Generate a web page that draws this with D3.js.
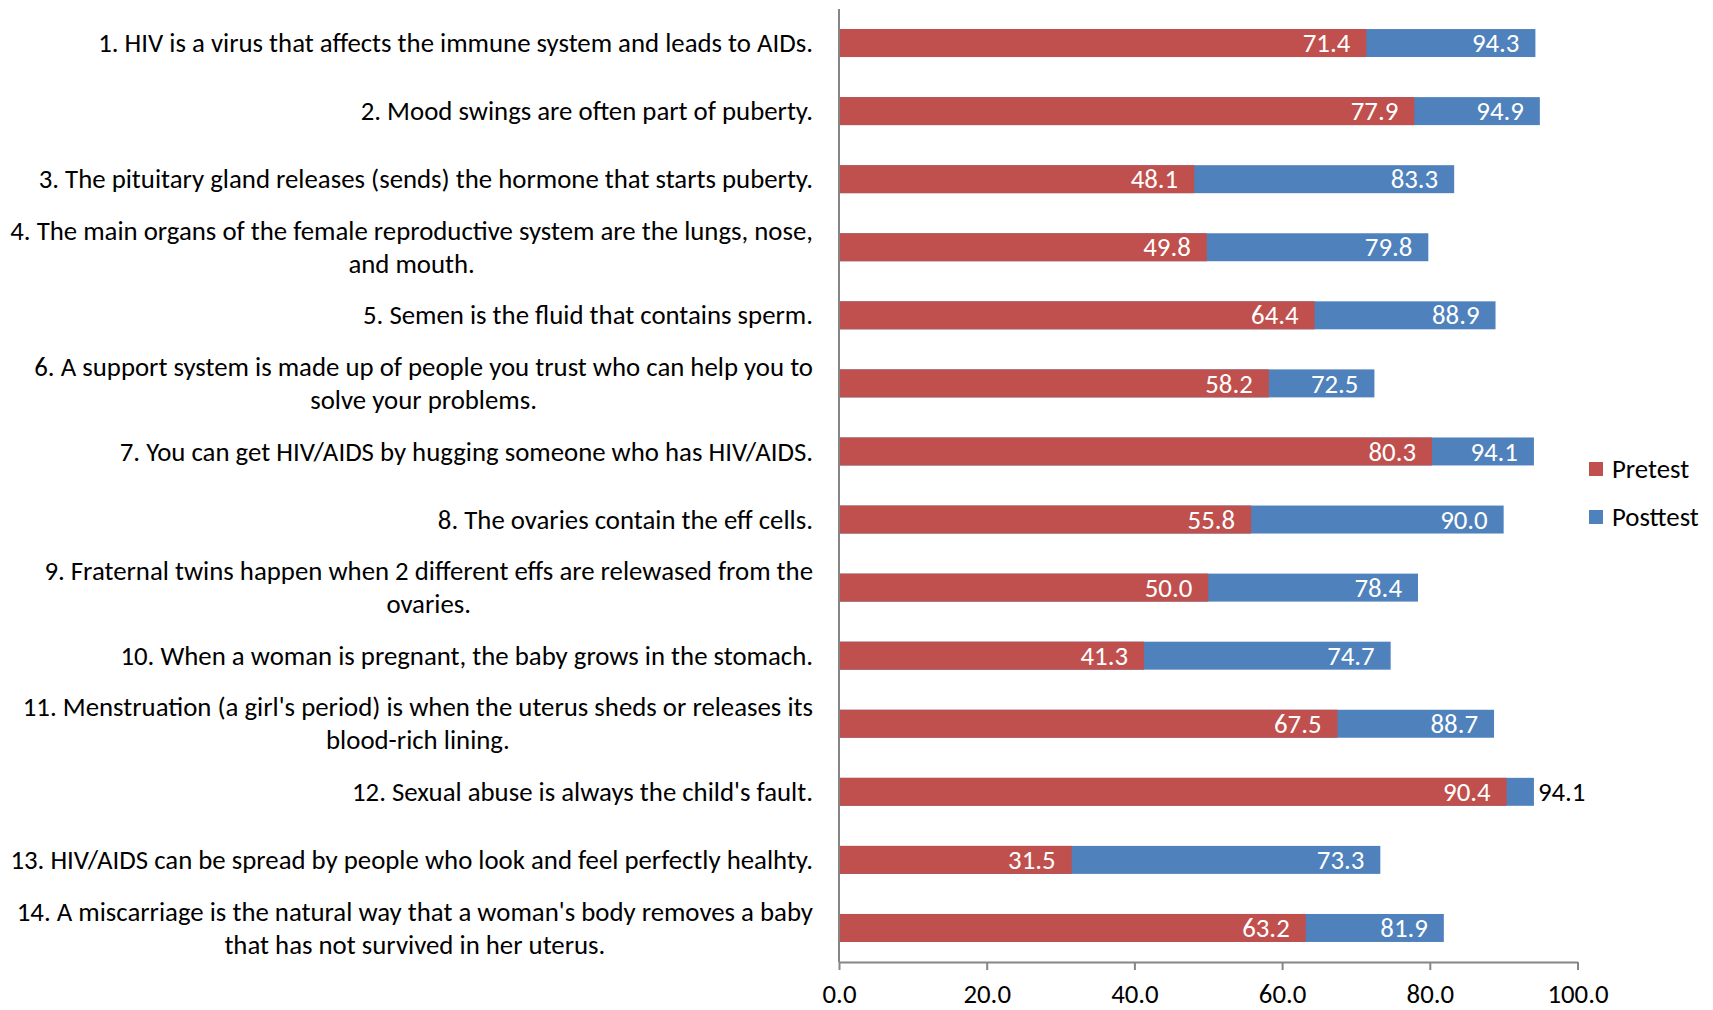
<!DOCTYPE html>
<html>
<head>
<meta charset="utf-8">
<script src="https://cdn.jsdelivr.net/npm/d3@7"></script>
<style>
  html, body { margin: 0; padding: 0; background: #fff; }
  svg { display: block; }
  text { font-family: Carlito, Calibri, Lato, sans-serif; }
</style>
</head>
<body>
<svg id="chart" width="1713" height="1010"></svg>
<script>
// Survey items (multi-line items are split where the label wraps)
const items = [
  ["1. HIV is a virus that affects the immune system and leads to AIDs."],
  ["2. Mood swings are often part of puberty."],
  ["3. The pituitary gland releases (sends) the hormone that starts puberty."],
  ["4. The main organs of the female reproductive system are the lungs, nose,", "and mouth."],
  ["5. Semen is the fluid that contains sperm."],
  ["6. A support system is made up of people you trust who can help you to", "solve your problems."],
  ["7. You can get HIV/AIDS by hugging someone who has HIV/AIDS."],
  ["8. The ovaries contain the eff cells."],
  ["9. Fraternal twins happen when 2 different effs are relewased from the", "ovaries."],
  ["10. When a woman is pregnant, the baby grows in the stomach."],
  ["11. Menstruation (a girl's period) is when the uterus sheds or releases its", "blood-rich lining."],
  ["12. Sexual abuse is always the child's fault."],
  ["13. HIV/AIDS can be spread by people who look and feel perfectly healhty."],
  ["14. A miscarriage is the natural way that a woman's body removes a baby", "that has not survived in her uterus."]
];
const pretest  = [71.4, 77.9, 48.1, 49.8, 64.4, 58.2, 80.3, 55.8, 50.0, 41.3, 67.5, 90.4, 31.5, 63.2];
const posttest = [94.3, 94.9, 83.3, 79.8, 88.9, 72.5, 94.1, 90.0, 78.4, 74.7, 88.7, 94.1, 73.3, 81.9];
const xTicks = [0, 20, 40, 60, 80, 100];
const seriesNames = ["Pretest", "Posttest"];
const seriesColors = ["#C0504D", "#4F81BD"];

const FONT = 26.8;
const svg = d3.select("#chart");

const x = d3.scaleLinear().domain([0, 100]).range([839, 1577.5]);
const y = d3.scaleBand()
  .domain(d3.range(items.length))
  .range([9, 962])
  .paddingInner(0.589)
  .paddingOuter(0.2945);

const rows = items.map((lines, i) => ({ i, lines, pre: pretest[i], post: posttest[i] }));

// Posttest bar drawn full length, pretest bar on top of it
const g = svg.append("g");
g.selectAll("rect.post").data(rows).join("rect")
  .attr("class", "post")
  .attr("x", x(0))
  .attr("y", d => y(d.i))
  .attr("width", d => x(d.post) - x(0))
  .attr("height", y.bandwidth())
  .attr("fill", seriesColors[1]);
g.selectAll("rect.pre").data(rows).join("rect")
  .attr("class", "pre")
  .attr("x", x(0))
  .attr("y", d => y(d.i))
  .attr("width", d => x(d.pre) - x(0))
  .attr("height", y.bandwidth())
  .attr("fill", seriesColors[0]);

// Value labels at the inside end of each segment
const pad = 16;
function valueLabel(cls, val, start) {
  const t = g.selectAll("text." + cls).data(rows).join("text")
    .attr("class", cls)
    .attr("y", d => y(d.i) + y.bandwidth() / 2)
    .attr("dy", "0.34em")
    .attr("font-size", FONT)
    .text(d => val(d).toFixed(1));
  t.each(function (d) {
    const w = this.getComputedTextLength();
    const segW = x(val(d)) - x(start(d));
    const sel = d3.select(this);
    if (segW < w + pad) {
      sel.attr("x", x(val(d)) + 4).attr("text-anchor", "start").attr("fill", "#000");
    } else {
      sel.attr("x", x(val(d)) - pad).attr("text-anchor", "end").attr("fill", "#fff");
    }
  });
}
valueLabel("vpre", d => d.pre, d => 0);
valueLabel("vpost", d => d.post, d => d.pre);

// Category labels: right aligned block, wrapped lines centred on each other
const lineH = 33;
const labelRight = 813;
const lab = svg.append("g").attr("font-size", FONT).attr("fill", "#000");
rows.forEach(d => {
  const cy = y(d.i) + y.bandwidth() / 2;
  const n = d.lines.length;
  const grp = lab.append("g");
  const texts = d.lines.map((s, k) => grp.append("text")
    .attr("y", cy + (k - (n - 1) / 2) * lineH)
    .attr("dy", "0.34em")
    .text(s));
  const widths = texts.map(t => t.node().getComputedTextLength());
  const maxW = d3.max(widths);
  const centre = labelRight - maxW / 2;
  texts.forEach(t => t.attr("x", centre).attr("text-anchor", "middle"));
});

// Axes
const axisColor = "#868686";
svg.append("line")
  .attr("x1", x(0)).attr("x2", x(0))
  .attr("y1", 9).attr("y2", 962)
  .attr("stroke", axisColor).attr("stroke-width", 2);

const xAxis = d3.axisBottom(x)
  .tickValues(xTicks)
  .tickFormat(d3.format(".1f"))
  .tickSizeInner(8)
  .tickSizeOuter(0)
  .tickPadding(14);
const ax = svg.append("g").attr("transform", "translate(0,962)").call(xAxis);
ax.select(".domain").attr("stroke", axisColor).attr("stroke-width", 2);
ax.selectAll(".tick line").attr("stroke", axisColor).attr("stroke-width", 2);
ax.selectAll(".tick text")
  .attr("font-size", FONT)
  .attr("fill", "#000")
  .attr("font-family", "Carlito, Calibri, Lato, sans-serif");

// Legend
const legend = svg.append("g").attr("font-size", FONT);
seriesNames.forEach((name, k) => {
  const ly = 469 + k * 48;
  legend.append("rect")
    .attr("x", 1589).attr("y", ly - 7)
    .attr("width", 14).attr("height", 14)
    .attr("fill", seriesColors[k]);
  legend.append("text")
    .attr("x", 1612).attr("y", ly)
    .attr("dy", "0.34em")
    .attr("fill", "#000")
    .text(name);
});
</script>
</body>
</html>
